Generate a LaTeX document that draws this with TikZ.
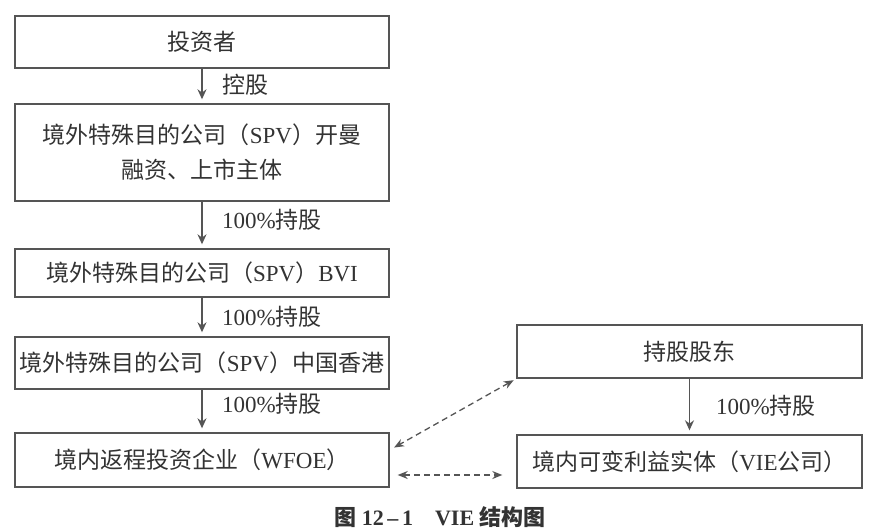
\documentclass[tikz,border=0pt]{standalone}
\usepackage{fontspec}
\setmainfont{Liberation Serif}
\newfontfamily\cjk{Noto Sans CJK SC}
\usetikzlibrary{arrows.meta,calc}
\definecolor{ink}{HTML}{333333}
\definecolor{linec}{HTML}{555555}
\begin{document}
\begin{tikzpicture}[x=1pt,y=-1pt,
 box/.style={draw=linec, line width=1.4pt, minimum width=374pt, inner sep=0pt, text=ink, font=\fontsize{23}{35}\selectfont, align=center},
 rbox/.style={box, minimum width=345pt},
 flow/.style={draw=linec, line width=1.4pt, -{Stealth[length=10pt,width=9pt]}, shorten >=4pt},
 lab/.style={anchor=west, text=ink, font=\fontsize{23}{26}\selectfont, inner sep=0pt},
 dashar/.style={draw=linec, line width=1.3pt, dash pattern=on 6pt off 4pt, {Stealth[length=10pt,width=8pt]}-{Stealth[length=10pt,width=8pt]}}]
\useasboundingbox (0,0) rectangle (885,530);
\fill[white] (0,0) rectangle (885,530);
% left column
\node[box, minimum height=52pt] (b1) at (202,42) {\cjk 投资者};
\node[box, minimum height=97pt] (b2) at (202,152.5) {{\cjk 境外特殊目的公司（}SPV{\cjk ）开曼}\\{\cjk 融资、上市主体}};
\node[box, minimum height=48pt] (b3) at (202,273) {{\cjk 境外特殊目的公司（}SPV{\cjk ）}BVI};
\node[box, minimum height=52pt] (b4) at (202,363) {{\cjk 境外特殊目的公司（}SPV{\cjk ）中国香港}};
\node[box, minimum height=54pt] (b5) at (202,460) {{\cjk 境内返程投资企业（}WFOE{\cjk ）}};
% right column
\node[rbox, minimum height=53pt] (b6) at (689.5,351.5) {\cjk 持股股东};
\node[rbox, minimum height=53pt] (b7) at (689.5,461.5) {{\cjk 境内可变利益实体（}VIE{\cjk 公司）}};
% vertical arrows
\draw[flow] (b1) -- (b2);
\draw[flow] (b2) -- (b3);
\draw[flow] (b3) -- (b4);
\draw[flow] (b4) -- (b5);
\draw[flow] (b6) -- (b7);
% labels
\node[lab] (l1) at (222,85) {\cjk 控股};
\node[lab] (l2) at (222,220) {100\%{\cjk 持股}};
\node[lab] (l3) at (222,317) {100\%{\cjk 持股}};
\node[lab] (l4) at (222,404) {100\%{\cjk 持股}};
\node[lab] (l5) at (716,406) {100\%{\cjk 持股}};
% dashed connectors
\draw[dashar, shorten <=3pt, shorten >=5pt] (b6.south west) -- ([yshift=10pt]b5.east);
\draw[dashar, shorten <=8pt, shorten >=14pt] ([yshift=-15pt]b5.east) -- ([yshift=-15pt]b5.east -| b7.west);
% caption
\node[text=ink, font=\fontsize{22}{24}\selectfont\bfseries] (cap) at (440,517) {{\cjk\bfseries 图} 12\,–\,1\quad VIE {\cjk\bfseries 结构图}};
\end{tikzpicture}
\end{document}
